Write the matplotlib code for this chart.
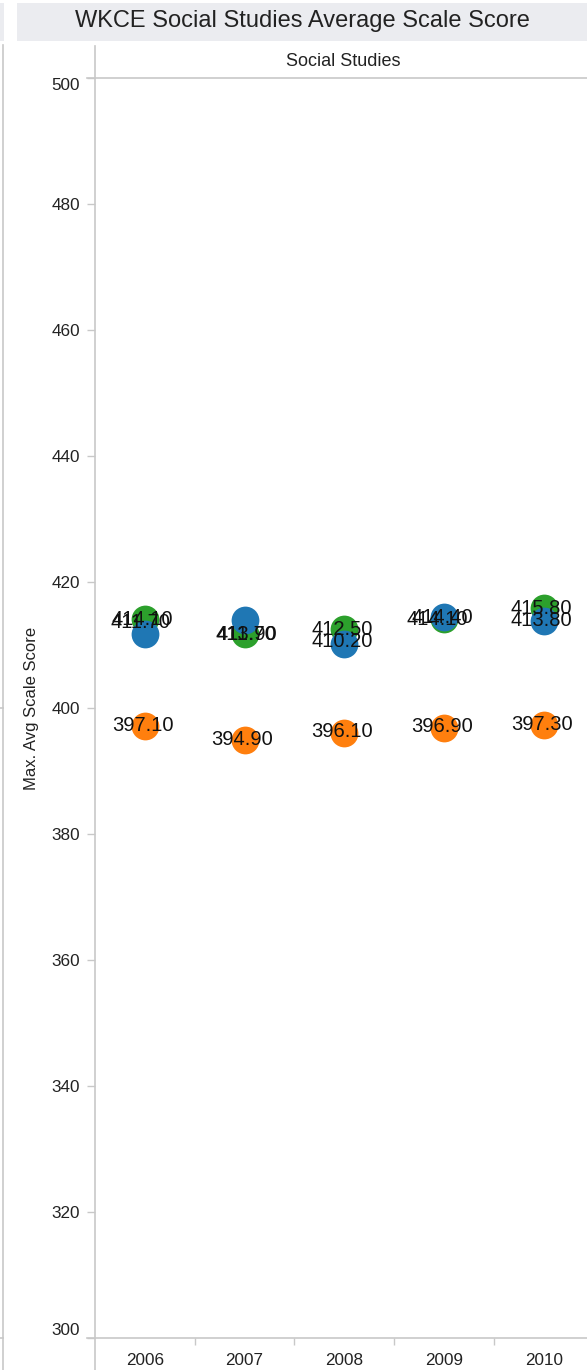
import matplotlib
matplotlib.use("Agg")
import matplotlib.pyplot as plt
from matplotlib.lines import Line2D
from matplotlib.patches import Rectangle

plt.rcParams['font.family'] = ['Liberation Sans', 'DejaVu Sans']

# data
years = ['2006', '2007', '2008', '2009', '2010']
blue_scores = [411.70, 413.90, 410.20, 414.40, 413.80]
green_scores = [414.10, 411.70, 412.50, 414.10, 415.80]
orange_scores = [397.10, 394.90, 396.10, 396.90, 397.30]
y_ticks = [300, 320, 340, 360, 380, 400, 420, 440, 460, 480, 500]

# label nudges in pixels (Tableau moved some labels to dodge each other)
blue_nudge = [(-4, 12), (2, -14), (-2, 2), (-2, 0), (-2, 1)]
green_nudge = [(-3, 0), (2, 0), (-2, 0), (-7, 0), (-2, 0)]
orange_nudge = [(-2, 1), (-2, 1), (-2, 1), (-2, 1), (-2, 1)]

W, H = 587, 1370
fig = plt.figure(figsize=(W / 100, H / 100), dpi=100)
line_col = '#c8c8c8'
text_col = '#222222'


def fx(x):
    return x / W


def fy(y):
    return (H - y) / H


def fline(x0, y0, x1, y1):
    fig.add_artist(Line2D([fx(x0), fx(x1)], [fy(y0), fy(y1)],
                          transform=fig.transFigure, color=line_col, lw=1.2))


# title bar
fig.add_artist(Rectangle((fx(0), fy(41)), fx(4), (41 - 3) / H,
                         transform=fig.transFigure, color='#ebecf0', lw=0))
fig.add_artist(Rectangle((fx(17), fy(41)), fx(W - 17), (41 - 3) / H,
                         transform=fig.transFigure, color='#ebecf0', lw=0))
fig.text(fx(302), fy(21), 'WKCE Social Studies Average Scale Score',
         ha='center', va='center', fontsize=17, color=text_col)

# plot pane: x from 95 to ~593 px, y from 78 to 1338 px
ax = fig.add_axes([fx(95), fy(1338), fx(593.5 - 95), (1338 - 78) / H])
ax.set_xlim(-0.5, 4.5)
ax.set_ylim(300, 500)
for s in ax.spines.values():
    s.set_visible(False)

x = list(range(len(years)))
ax.scatter(x, green_scores, s=400, color='#2ca02c', zorder=2, linewidths=0)
ax.scatter(x, blue_scores, s=400, color='#1f77b4', zorder=3, linewidths=0)
ax.scatter(x, orange_scores, s=400, color='#ff7f0e', zorder=3, linewidths=0)

for vals, nudges in [(green_scores, green_nudge), (blue_scores, blue_nudge),
                     (orange_scores, orange_nudge)]:
    for i, v in enumerate(vals):
        ax.annotate(f'{v:.2f}', (i, v), xytext=nudges[i], textcoords='offset pixels',
                    ha='center', va='center', fontsize=14.5, color='#111111', zorder=5)

ax.set_yticks(y_ticks)
ax.set_yticklabels([str(t) for t in y_ticks])
ax.tick_params(axis='y', length=5.8, width=1, color=line_col, pad=5,
               labelsize=12.3, labelcolor=text_col)
labels = ax.get_yticklabels()
labels[0].set_verticalalignment('bottom')
labels[-1].set_verticalalignment('top')

ax.set_xticks(x)
ax.set_xticklabels(years)
ax.tick_params(axis='x', length=0, pad=11, labelsize=12.3, labelcolor=text_col)
ax.set_xticks([0.5, 1.5, 2.5, 3.5], minor=True)
ax.tick_params(axis='x', which='minor', length=5, width=1, color=line_col)

# header and frame lines
fig.text(fx(343), fy(61), 'Social Studies', ha='center', va='center',
         fontsize=13, color=text_col)
fline(3, 45, 3, H)
fline(95, 46, 95, H)
fline(87, 78, W, 78)
fline(87, 1338, W, 1338)
fline(0, 708, 3, 708)
fline(0, 1338, 3, 1338)

fig.text(fx(32), fy(708), 'Max. Avg Scale Score', rotation=90, ha='center',
         va='center', fontsize=12, color=text_col)

fig.savefig('out.png', dpi=100)
